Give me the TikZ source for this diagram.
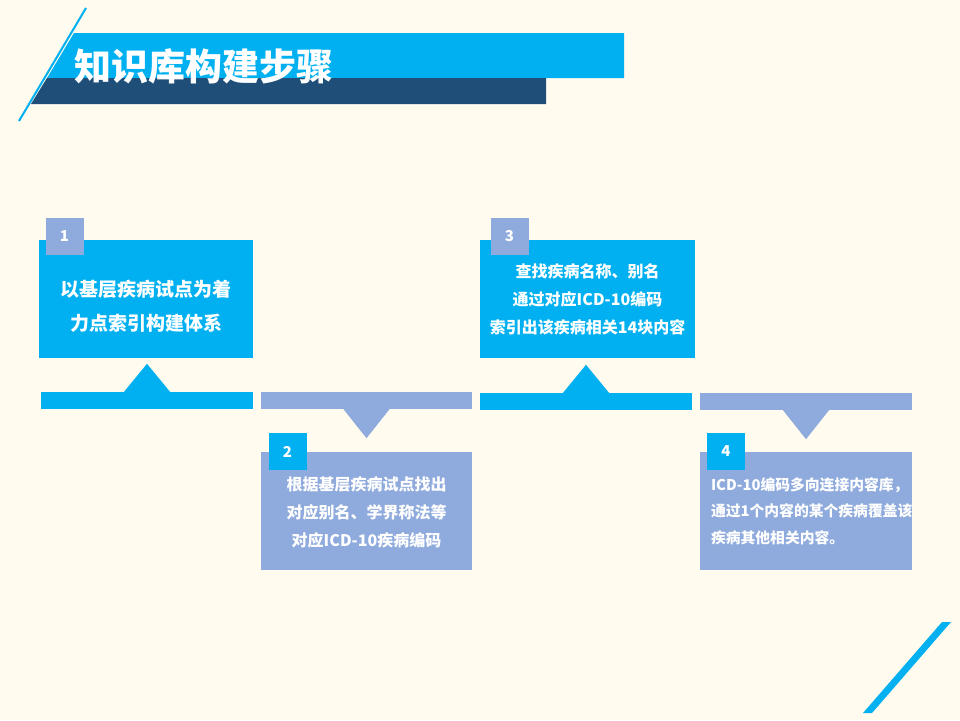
\documentclass[tikz,border=0pt]{standalone}
\usepackage{fontspec}
\setmainfont{Noto Sans CJK SC}
\definecolor{stepblue}{HTML}{00B0F0}
\definecolor{steplav}{HTML}{8FAADC}
\definecolor{stepdark}{HTML}{1F4E79}
\definecolor{paper}{HTML}{FFFBEF}
\tikzset{
  box/.style={fill=#1, minimum width=212pt, minimum height=118pt, inner sep=0pt},
  tag/.style={fill=#1, minimum width=38pt, minimum height=37pt, inner sep=0pt,
    text=white, font=\bfseries\fontsize{15}{15}\selectfont},
  bar/.style={fill=#1, minimum width=212pt, minimum height=17pt, inner sep=0pt},
  txt/.style={text=white, font=\bfseries\fontsize{16}{28}\selectfont, align=center, inner sep=0pt}
}
\begin{document}
\begin{tikzpicture}[x=1pt,y=-1pt]

      \fill[paper] (0,0) rectangle (960,720);
      \useasboundingbox (0,0) rectangle (960,720);

      % title band
      \fill[stepblue] (74,33) -- (624,33) -- (624,78) -- (47,78) -- cycle;
      \fill[stepdark] (47,78) -- (546,78) -- (546,104) -- (31,104) -- cycle;
      \draw[stepblue, line width=2pt] (86,8) -- (19,121);
      \fill[stepblue] (942,622) -- (951,622) -- (872,713) -- (863,713) -- cycle;
      \node[txt, font=\bfseries\fontsize{37}{37}\selectfont] (title) at (204,66) {知识库构建步骤};

      % steps
      \node[box=stepblue, minimum width=214pt] (s1) at (146,299)   {};
      \node[box=steplav,  minimum width=211pt] (s2) at (366.5,511) {};
      \node[box=stepblue, minimum width=215pt] (s3) at (587.5,299) {};
      \node[box=steplav]                       (s4) at (806,511)   {};

      \node[tag=steplav]  (n1) at (64.5,236.5)  {1};
      \node[tag=stepblue] (n2) at (287.5,451.5) {2};
      \node[tag=steplav]  (n3) at (509.5,236.5) {3};
      \node[tag=stepblue] (n4) at (726,451)     {4};

      \node[bar=stepblue]                      (b1) at (147,400.5)   {};
      \node[bar=steplav, minimum width=211pt]  (b2) at (366.5,400.5) {};
      \node[bar=stepblue]                      (b3) at (586,401.5)   {};
      \node[bar=steplav]                       (b4) at (806,401.5)   {};

      \fill[stepblue] (b1.north) ++(-23,0) -- ++(23,-28) -- ++(23,28) -- cycle;
      \fill[steplav]  (b2.south) ++(-23,0) -- ++(23,29)  -- ++(23,-29) -- cycle;
      \fill[stepblue] (b3.north) ++(-23,0) -- ++(23,-28) -- ++(23,28) -- cycle;
      \fill[steplav]  (b4.south) ++(-23,0) -- ++(23,29)  -- ++(23,-29) -- cycle;

      \node[txt, font=\bfseries\fontsize{19}{34}\selectfont] (t1) at ([yshift=-7pt]s1.center)
        {以基层疾病试点为着\\力点索引构建体系};
      \node[txt] (t2) at ([yshift=-1pt]s2.center)
        {根据基层疾病试点找出\\对应别名、学界称法等\\对应ICD-10疾病编码};
      \node[txt] (t3) at (s3.center)
        {查找疾病名称、别名\\通过对应ICD-10编码\\索引出该疾病相关14块内容};
      \node[txt, font=\bfseries\fontsize{14.8}{26.5}\selectfont, align=left, anchor=west] (t4)
        at ([xshift=11pt]s4.west)
        {ICD-10编码多向连接内容库，\\通过1个内容的某个疾病覆盖该\\疾病其他相关内容。};

    \end{tikzpicture}
\end{document}
